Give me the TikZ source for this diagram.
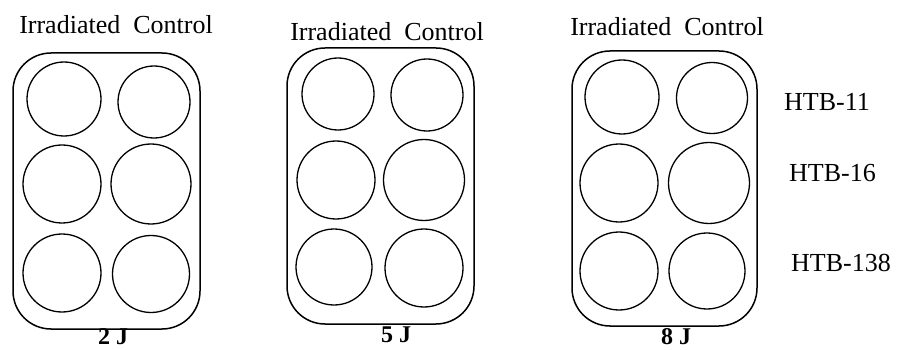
\documentclass[tikz,border=0pt]{standalone}
\usepackage{fontspec}
\setmainfont{Liberation Serif}
\begin{document}
\begin{tikzpicture}[x=1pt,y=-1pt,
  plate/.style={draw,line width=1.5pt,rounded corners=38pt},
  well/.style={draw,line width=1.3pt,circle,inner sep=0pt},
  head/.style={font=\fontsize{26}{30}\selectfont,inner sep=0pt},
  dose/.style={font=\fontsize{24}{28}\selectfont\bfseries,inner sep=0pt},
  line/.style={font=\fontsize{26}{30}\selectfont,inner sep=0pt,anchor=west}]
\useasboundingbox (0,0) rectangle (903,350);

% plate 1
\draw[plate] (13,53) rectangle (200,329);
\node[well,minimum size=74pt] (a11) at (64,99) {};
\node[well,minimum size=72pt] (a12) at (154,102) {};
\node[well,minimum size=78pt] (a21) at (62,184) {};
\node[well,minimum size=80pt] (a22) at (151,184) {};
\node[well,minimum size=78pt] (a31) at (62,273) {};
\node[well,minimum size=77pt] (a32) at (151,274) {};
\node[head] (ha) at (116,25) {Irradiated\ \ Control};
\node[dose] (da) at (113,337) {2 J};

% plate 2
\draw[plate] (287,48) rectangle (474,324);
\node[well,minimum size=72pt] (b11) at (338,94) {};
\node[well,minimum size=72pt] (b12) at (427,95) {};
\node[well,minimum size=78pt] (b21) at (336,180) {};
\node[well,minimum size=81pt] (b22) at (424,180) {};
\node[well,minimum size=76pt] (b31) at (334,267) {};
\node[well,minimum size=78pt] (b32) at (424,268) {};
\node[head] (hb) at (387,32) {Irradiated\ \ Control};
\node[dose] (db) at (396,335) {5 J};

% plate 3
\draw[plate] (572,51) rectangle (757,326);
\node[well,minimum size=74pt] (c11) at (622,97) {};
\node[well,minimum size=71pt] (c12) at (712,98) {};
\node[well,minimum size=78pt] (c21) at (619,183) {};
\node[well,minimum size=81pt] (c22) at (709,183) {};
\node[well,minimum size=78pt] (c31) at (619,271) {};
\node[well,minimum size=76pt] (c32) at (707,271) {};
\node[head] (hc) at (667,27) {Irradiated\ \ Control};
\node[dose] (dc) at (676,337) {8 J};

% cell line labels
\node[line] (l1) at (784,102) {HTB-11};
\node[line] (l2) at (789,173) {HTB-16};
\node[line] (l3) at (791,263) {HTB-138};
\end{tikzpicture}
\end{document}
